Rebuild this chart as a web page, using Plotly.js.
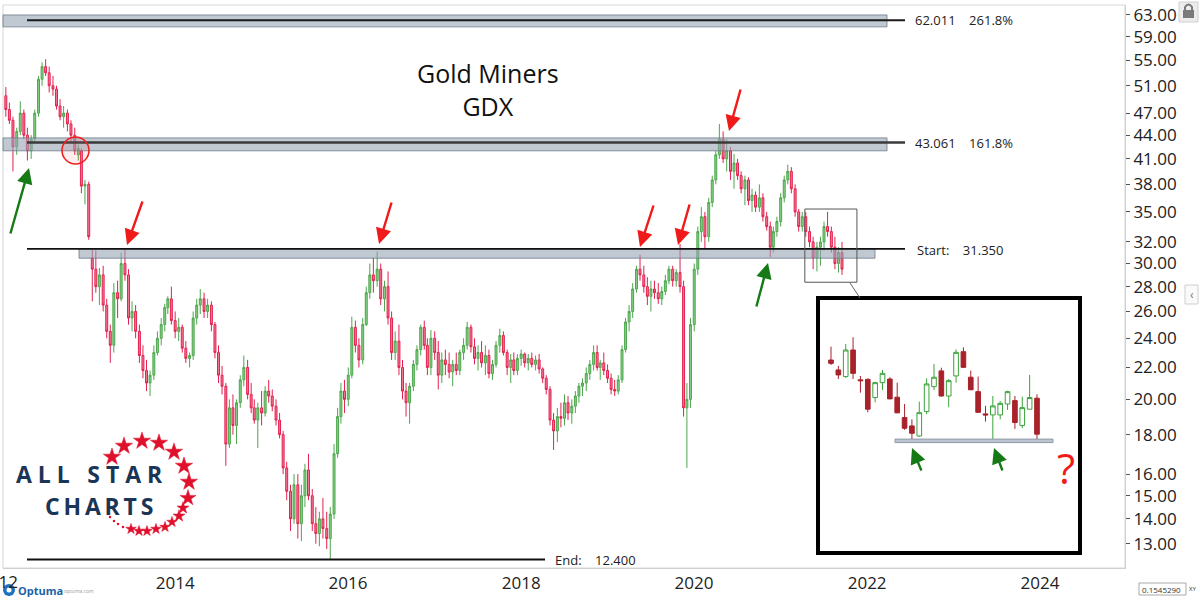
<!DOCTYPE html>
<html>
<head>
<meta charset="utf-8">
<script src="https://cdn.plot.ly/plotly-3.0.1.min.js"></script>
<style>html,body{margin:0;padding:0;background:#fff}#chart{width:1200px;height:597px}</style>
</head>
<body>
<div id="chart"></div>
<script>
// ---------------- DATA (GDX, half-month bars, Apr 2012 - Dec 2021) ----------------
const open = [
  49.5,47.5,46,42.5,44.5,47,44,42,43.5,47,52,54,53,51,50.5,48,46.5,
  47,45.5,44,41.5,42,37.8,38,30.5,29.5,28,29,26.5,24.5,23.5,27.5,27,30,29,25.5,26,24.5,22.8,21.8,21,
  21.5,23,24,25,26.3,27,25.3,24.5,24.8,23.3,22.6,22.8,25.5,26.5,27,26,26.5,25,23,21.5,20.8,17.5,19.5,18.5,
  19.8,21.2,22,20.3,19.5,18.8,19.5,19.2,20.5,20.2,19.6,18.8,18,16.3,15.2,14,15.5,13.8,15,16.2,15,13.8,13.4,14,
  13.6,13.2,14.2,17,19,20.5,20,21.5,24.8,23.5,22.5,25,27.5,29,28.5,29.5,27,28,25.5,23,23.8,22,20.5,19.8,
  20.8,22.2,23.2,24.8,23.5,22,24,23,21.5,22.5,22.2,21.7,22.2,21.8,23,23.5,24.8,23.4,22.6,23,22.3,22.8,21.6,22.2,
  23.5,24.2,23,22,22.5,21.8,22.6,22.9,22.3,22.6,22.2,22.5,21.9,21.3,20.6,18.8,18.2,19,18.9,19.8,19.2,19.6,20.2,20.8,
  21,21.6,22.2,23,22,22.3,21.8,21.3,20.6,20.5,21.2,23.2,25.2,26,27.8,29.5,29,28,27.2,27.8,27.5,27,27.6,28.5,
  29.5,28.5,29.2,28,19.5,20,25,29.5,33,34.5,32.5,36,38.5,41.5,43.5,41,42,39.5,40.5,39,37.5,38.5,36.2,36.8,
  35.5,36.5,34.5,33.5,31.5,33,34,36.5,38.5,39.5,37.5,35,33.5,34.5,33,32,30.5,31.5,32,33.5,33,31.5,30,31
];
const high = [
  50.8,48.5,46.5,45,48.7,47.5,45,44,47.5,52.5,54.7,55.2,54,52.5,51,49,48,
  47.5,46,45,42.8,42.3,38.5,38.3,31.3,31.2,29.6,29.8,27,25,28.3,28.5,31,31.3,29.5,26.8,26.5,25,23.5,22.5,21.8,
  23.5,24.5,25.5,26.6,27.2,28,26,25.5,25,23.8,23,26,27,27.8,27.5,27,26.8,25.2,23.5,22.1,21,20,20.3,20,
  21.5,22.8,22.5,21,20,19.8,20.5,20.8,21.2,20.6,20,19.2,18.2,16.6,15.5,16,16,15.5,16.5,17,15.3,14.5,14.3,14.9,
  14.3,14.5,17.5,19.5,21,21.2,22,25.6,25.3,24,25.5,28,30,30.5,31.1,30,28.5,29.3,26,24.5,25,22.5,21,21,
  22.5,23.5,25,25.3,24,24.6,24.5,23.8,23,23.2,23,22.5,23,23.2,24,25.2,25,24,23.5,23.8,23.5,23.2,22.5,23.8,
  24.7,24.5,23.2,22.9,23,22.9,23.2,23,22.9,23,22.8,22.9,22,21.5,20.8,19.2,19.5,19.8,20.3,20.2,20,20.5,21,21.3,
  22,22.5,23.5,23.5,22.5,23,22.2,21.6,21.2,21.5,23.5,25.5,26.5,28.3,29.8,30.8,29.8,28.8,28.5,28.5,28.3,28,29,29.8,
  29.8,29.5,31.8,28.5,21,25.5,30,33.5,35.5,35,36.5,39,42,45.5,44.5,43.5,42.5,41.6,41,39.5,39,38.8,37.5,37.2,
  38,37,35,34,33.5,34.5,37,39,40.3,40,38,35.3,35,35,33.5,32.5,32,32.5,34,35,33.5,32.5,31.5,32
];
const low = [
  46.5,45.5,39.5,41.5,44,43.5,40.8,41,43,46.5,51,52.5,50,49.5,47.5,46,45,
  44.5,43,41.5,40.8,37,35.8,32.2,26.8,27.5,26.5,26,24,22.3,23,25.5,26.8,28.5,25,24.5,24,22.3,21.3,20.5,20.2,
  21.2,22.8,23.5,24.5,25.8,25,24,23.8,23,22.3,22,22.5,25,25.8,25.5,25.5,24.5,22.6,21,20.3,16.4,17.3,18,17.5,
  19.5,20.8,20,19.2,18.6,17.3,18.5,19,19.8,19.3,18.5,17.8,16,14.8,13.5,13.8,13.2,13.1,14.5,14.8,13.5,13,12.9,13.2,
  12.8,12.4,14,16.8,18.6,19.2,19.6,21.3,23,22,22.2,24.9,27,27.5,28,26.5,26,25,22.5,22.5,21.5,20,19,18.6,
  20.5,21.8,22.8,23.2,21.5,21.5,22.5,20.6,21,21.5,21.3,20.8,21.5,21.5,22.5,23.2,23,22.2,21.8,22,21.5,21.3,21.2,22,
  23,22.8,21.5,21,21.5,21.5,22.1,22,21.8,22,21.8,21.6,21,20.3,18.5,17.2,17.6,18.4,18.5,18.8,18.6,19.2,19.8,20.2,
  20.5,21.2,21.8,21.8,21.2,21.5,21,20.3,20.2,20.3,21,23,24.5,25.5,27.5,28.5,27.5,26.5,26,27,26.6,26.5,27.3,28.2,
  28,28,27.5,19,16.3,19.5,24.5,29,32,31.3,32,35.5,38,41,40.5,39.5,38.5,37.5,38.5,37,35.7,35.7,35,35,
  35,34,33.1,30.6,31,32.5,33.5,36,38,37,34.5,33,33,32.5,31.5,29.5,29.3,29.8,31.2,32.5,31,29.5,29.2,29
];
const close = [
  47.5,46,42.5,44.5,47,44,42,43.5,47,52,54,53,51,50.5,48,46.5,47,
  45.5,44,42,42.3,37.8,38,32.5,29.5,28,29,26.5,24.5,23.5,27.5,27,30,29,25.5,26,24.5,22.8,21.8,21,21.5,
  23,24,25,26.3,27,25.3,24.5,24.8,23.3,22.6,22.8,25.5,26.5,27,26,26.5,25,23,21.5,20.8,17.5,19.5,18.5,19.8,
  21.2,22,20.3,19.5,18.8,19.5,19.2,20.5,20.2,19.6,18.8,18,16.3,15.2,14,15.5,13.8,15,16.2,15,13.8,13.4,14,13.6,
  13.2,14.2,17,19,20.5,20,21.5,24.8,23.5,22.5,25,27.5,29,28.5,29.5,27,28,25.5,23,23.8,22,20.5,19.8,20.8,
  22.2,23.2,24.8,23.5,22,24,23,21.5,22.5,22.2,21.7,22.2,21.8,23,23.5,24.8,23.4,22.6,23,22.3,22.8,21.6,22.2,23.5,
  24.2,23,22,22.5,21.8,22.6,22.9,22.3,22.6,22.2,22.5,21.9,21.3,20.6,18.8,18.2,19,18.9,19.8,19.2,19.6,20.2,20.8,21,
  21.6,22.2,23,22,22.3,21.8,21.3,20.6,20.5,21.2,23.2,25.2,26,27.8,29.5,29,28,27.2,27.8,27.5,27,27.6,28.5,29.5,
  28.5,29.2,28,19.5,20,25,29.5,33,34.5,32.5,36,38.5,41.5,43.5,41,42,39.5,40.5,39,37.5,38.5,36.2,36.8,35.5,
  36.5,34.5,33.5,31.5,33,34,36.5,38.5,39.5,37.5,35,33.5,34.5,33,32,30.5,31.5,32,33.5,33,31.5,30,31,29.5
];

// Inset: weekly candles of the boxed area (mid 2021 - Dec 2021)
const insetOpen  = [34.33,33.71,33.30,34.97,33.10,33.13,32.04,32.93,33.15,32.06,30.88,30.41,29.85,31.22,32.69,33.65,32.13,33.34,34.86,33.26,32.39,31.09,31.03,31.03,31.66,31.86,30.43,31.36,32.00];
const insetHigh  = [35.19,33.96,35.36,35.80,33.34,33.19,32.99,33.71,33.26,32.93,31.66,30.78,31.80,33.19,34.08,33.85,33.15,35.01,35.14,33.67,33.30,31.55,32.13,31.84,32.45,32.13,32.09,33.40,32.23];
const insetLow   = [34.02,33.15,33.22,33.15,32.33,31.18,31.76,32.49,31.94,31.13,30.19,29.55,29.80,31.07,32.49,32.10,31.47,32.93,33.85,32.49,31.16,30.65,29.60,30.78,31.32,30.24,30.28,31.36,29.60];
const insetClose = [34.12,33.40,34.97,33.50,33.05,31.36,32.93,33.50,31.96,31.15,30.28,30.00,31.16,32.85,33.26,32.13,33.05,34.82,33.87,32.50,31.18,31.03,31.55,31.70,32.39,30.60,31.45,32.04,29.95];

// Levels
const levelValues = [62.011, 43.061, 31.350, 12.400];
const levelTexts  = ['62.011\u00a0\u00a0\u00a0\u00a0261.8%', '43.061\u00a0\u00a0\u00a0\u00a0161.8%', 'Start:\u00a0\u00a0\u00a0\u00a031.350', 'End:\u00a0\u00a0\u00a0\u00a012.400'];

// Axis ticks
const yTicks = [13,14,15,16,18,20,22,24,26,28,30,32,35,38,41,44,47,51,55,59,63];
const xTickYears = ['2014','2016','2018','2020','2022','2024'];

// ---------------- helpers ----------------
function barDates(year, month, half, n) {
  const out = [];
  for (let i = 0; i < n; i++) {
    out.push(year + '-' + String(month).padStart(2, '0') + (half ? '-23' : '-08'));
    if (half) { half = 0; month++; if (month > 12) { month = 1; year++; } } else { half = 1; }
  }
  return out;
}
const dates = barDates(2012, 4, 1, close.length);
const insetX = insetClose.map((_, i) => i);

// pixel -> paper conversion for decorations (plot area: x 3..1125, y 5..568)
const px = x => (x - 3) / 1122;
const py = y => (568 - y) / 563;

const FONT = 'Open Sans, Noto Sans, sans-serif';
const RED = '#f01a1a';
const GREEN = '#157a15';
const STAR_RED = '#e0102c';

// logo decoration (pixel positions of the star ring)
const logoStars = [
  [112,457,13],[124,446,13],[142,441,13],[159,443,13],[174,452,13],[184,466,13],[189,482,13],[188,498,12],
  [183,508,9],[179,516,9],[172,522,8],[165,527,8],[156,529,8],[147,531,8],[139,531,8],[131,529,8]
];
const logoDots = [[123,527],[118,524],[114,521],[110,517]];

const traces = [
  {
    type: 'candlestick', x: dates, open: open, high: high, low: low, close: close,
    xaxis: 'x', yaxis: 'y', showlegend: false, hoverinfo: 'skip',
    increasing: {line: {color: '#4da64d', width: 1}, fillcolor: '#86cf86'},
    decreasing: {line: {color: '#e3204f', width: 1}, fillcolor: '#f27a97'},
    whiskerwidth: 0
  },
  {
    type: 'candlestick', x: insetX, open: insetOpen, high: insetHigh, low: insetLow, close: insetClose,
    xaxis: 'x2', yaxis: 'y2', showlegend: false, hoverinfo: 'skip',
    increasing: {line: {color: '#3aa33a', width: 1}, fillcolor: '#ffffff'},
    decreasing: {line: {color: '#a8222b', width: 1}, fillcolor: '#a8222b'},
    whiskerwidth: 0
  },
  {
    type: 'scatter', mode: 'markers', xaxis: 'x3', yaxis: 'y3', hoverinfo: 'skip', showlegend: false,
    x: logoStars.map(s => s[0]), y: logoStars.map(s => s[1]),
    marker: {symbol: 'star', size: logoStars.map(s => s[2]), color: STAR_RED, opacity: 1, line: {width: 0.5, color: STAR_RED}}
  },
  {
    type: 'scatter', mode: 'markers', xaxis: 'x3', yaxis: 'y3', hoverinfo: 'skip', showlegend: false,
    x: logoDots.map(s => s[0]), y: logoDots.map(s => s[1]),
    marker: {symbol: 'circle', size: 2.5, color: STAR_RED, line: {width: 0}}
  }
];

const BAND_FILL = 'rgba(150,164,180,0.6)';
const BAND_LINE = 'rgba(110,122,138,0.8)';

const shapes = [
  // plot frame
  {type: 'rect', xref: 'paper', yref: 'paper', x0: 0, x1: 1, y0: 0, y1: 1, line: {color: '#d6d6d6', width: 1}, layer: 'below'},
  // inset frame
  {type: 'rect', xref: 'paper', yref: 'paper', x0: px(818), x1: px(1080), y0: py(553), y1: py(298), line: {color: '#000', width: 4}, fillcolor: '#fff', layer: 'below'},
  // inset support band
  {type: 'rect', xref: 'paper', yref: 'y2', x0: px(895), x1: px(1053), y0: 29.49, y1: 29.68, fillcolor: '#bcc5cf', line: {color: '#8e99a6', width: 1}, layer: 'above'},
  // bands
  {type: 'rect', xref: 'paper', yref: 'y', x0: 0, x1: px(887), y0: 60.8, y1: 63.0, fillcolor: BAND_FILL, line: {color: BAND_LINE, width: 1}},
  {type: 'rect', xref: 'paper', yref: 'y', x0: 0, x1: px(887), y0: 42.0, y1: 43.65, fillcolor: BAND_FILL, line: {color: BAND_LINE, width: 1}},
  {type: 'rect', xref: 'paper', yref: 'y', x0: px(79), x1: px(875), y0: 30.48, y1: 31.35, fillcolor: BAND_FILL, line: {color: BAND_LINE, width: 1}},
  // level lines
  {type: 'line', xref: 'paper', yref: 'y', x0: px(27), x1: px(905), y0: levelValues[0], y1: levelValues[0], line: {color: '#1a1a1a', width: 2}},
  {type: 'line', xref: 'paper', yref: 'y', x0: px(27), x1: px(905), y0: levelValues[1], y1: levelValues[1], line: {color: '#3a3a3a', width: 2.5}},
  {type: 'line', xref: 'paper', yref: 'y', x0: px(27), x1: px(905), y0: levelValues[2], y1: levelValues[2], line: {color: '#111', width: 1.8}},
  {type: 'line', xref: 'paper', yref: 'y', x0: px(27), x1: px(545), y0: levelValues[3], y1: levelValues[3], line: {color: '#111', width: 1.8}},
  // red circle
  {type: 'circle', xref: 'paper', yref: 'paper', x0: px(62), x1: px(89), y0: py(164), y1: py(137), line: {color: '#f02020', width: 1.6}, fillcolor: 'rgba(255,90,90,0.10)'},
  // small zoom box on main chart
  {type: 'rect', xref: 'x', yref: 'y', x0: '2021-07-19', x1: '2022-02-24', y0: 28.37, y1: 35.30, line: {color: '#555', width: 1}},
  // connector
  {type: 'line', xref: 'paper', yref: 'paper', x0: px(850), y0: py(283), x1: px(860), y1: py(298), line: {color: '#666', width: 1}},
  // lock icon top right
  {type: 'rect', xref: 'paper', yref: 'paper', x0: px(1179), x1: px(1198), y0: py(22), y1: py(2), fillcolor: '#ececec', line: {color: '#d0d0d0', width: 1}},
  {type: 'rect', xref: 'paper', yref: 'paper', x0: px(1183), x1: px(1194), y0: py(18), y1: py(10), fillcolor: '#7a7a7a', line: {width: 0}},
  {type: 'path', xref: 'paper', yref: 'paper',
   path: `M ${px(1185)} ${py(10)} L ${px(1185)} ${py(7)} Q ${px(1188.5)} ${py(2)} ${px(1192)} ${py(7)} L ${px(1192)} ${py(10)}`,
   line: {color: '#7a7a7a', width: 2}},
  // small side tab
  {type: 'rect', xref: 'paper', yref: 'paper', x0: px(1185), x1: px(1198), y0: py(304), y1: py(285), fillcolor: '#fafafa', line: {color: '#cfcfcf', width: 1}},
  // Optuma icon
  {type: 'circle', xref: 'paper', yref: 'paper', x0: px(3), x1: px(15), y0: py(596), y1: py(584), fillcolor: '#1e73be', line: {width: 0}},
  {type: 'circle', xref: 'paper', yref: 'paper', x0: px(6.5), x1: px(11.5), y0: py(592.5), y1: py(587.5), fillcolor: '#ffffff', line: {width: 0}},
  // bottom right readout box
  {type: 'rect', xref: 'paper', yref: 'paper', x0: px(1139), x1: px(1186), y0: py(595), y1: py(583), fillcolor: '#fff', line: {color: '#aaa', width: 1}}
];

function ann(x, y, text, size, color, extra) {
  return Object.assign({xref: 'paper', yref: 'paper', x: px(x), y: py(y), text: text, showarrow: false,
    xanchor: 'left', yanchor: 'middle', font: {family: FONT, size: size, color: color}}, extra || {});
}

const annotations = [
  // title
  {xref: 'paper', yref: 'paper', x: px(488), y: py(90), text: 'Gold Miners<br>GDX', showarrow: false,
   xanchor: 'center', yanchor: 'middle', align: 'center', font: {family: FONT, size: 25, color: '#111'}},
  // level labels
  ann(913, 20, levelTexts[0], 13, '#222'),
  ann(913, 143, levelTexts[1], 13, '#222'),
  ann(915, 250, levelTexts[2], 13, '#222'),
  ann(553, 560, levelTexts[3], 13, '#222'),
  // question mark
  ann(1066, 467, '?', 42, '#f01a1a', {xanchor: 'center'}),
  // partial 2012 label (cut by the left edge, as in the source)
  ann(-2, 581, '2012', 17, '#222', {xanchor: 'center'}),
  // Optuma
  ann(16, 590, '<b>Optuma</b>', 11, '#1e5fa8'),
  ann(62, 591, 'optuma.com', 5, '#999'),
  // readout
  ann(1140, 589, '0.1545290', 8, '#333'),
  ann(1187, 589, 'XY', 6, '#333'),
  ann(1191.5, 294, '\u2039', 12, '#777', {xanchor: 'center'}),
  // logo text (top line sits above y=490, bottom line below it)
  ann(15, 491, '<b>A L L\u2002 S T A R</b>', 23, '#1b3556', {yanchor: 'bottom', borderpad: 0}),
  ann(44, 489, '<b>C\u2009H\u2009A\u2009R\u2009T\u2009S</b>', 23, '#1b3556', {yanchor: 'top', borderpad: 0})
];

// arrows: tip and tail in pixels
const arrowList = [
  {tip: [127, 245], tail: [143, 200], c: RED},
  {tip: [379, 244], tail: [392, 201], c: RED},
  {tip: [640, 247], tail: [654, 204], c: RED},
  {tip: [678, 245], tail: [690, 203], c: RED},
  {tip: [729, 131], tail: [741, 88], c: RED},
  {tip: [29, 168], tail: [10, 235], c: GREEN},
  {tip: [768, 263], tail: [756, 308], c: GREEN},
  {tip: [912, 448], tail: [922, 472], c: GREEN},
  {tip: [994, 448], tail: [1003, 472], c: GREEN}
];
arrowList.forEach(a => annotations.push({
  xref: 'paper', yref: 'paper', x: px(a.tip[0]), y: py(a.tip[1]),
  ax: a.tail[0] - a.tip[0], ay: a.tail[1] - a.tip[1], text: '', showarrow: true,
  arrowhead: 2, arrowsize: 1.3, arrowwidth: 2.4, arrowcolor: a.c, standoff: 0
}));

const layout = {
  width: 1200, height: 597,
  margin: {l: 3, r: 75, t: 5, b: 29, pad: 0},
  paper_bgcolor: '#fff', plot_bgcolor: 'rgba(0,0,0,0)',
  showlegend: false, hovermode: false, dragmode: false,
  boxgap: 0.1, boxgroupgap: 0.3,
  xaxis: {
    type: 'date', domain: [0, 1], anchor: 'y',
    range: ['2012-04-11', '2025-04-01'],
    rangeslider: {visible: false},
    showgrid: false, zeroline: false, showline: true, linecolor: '#cfcfcf', linewidth: 1,
    ticks: '', tickmode: 'array',
    tickvals: xTickYears.map(y => y + '-01-01'), ticktext: xTickYears,
    ticklabelshift: 23,
    tickfont: {family: FONT, size: 17, color: '#222'}
  },
  yaxis: {
    type: 'log', domain: [0, 1], anchor: 'x', side: 'right',
    range: [Math.log10(12.09), Math.log10(64.9)],
    showgrid: false, zeroline: false, showline: true, linecolor: '#cfcfcf', linewidth: 1,
    ticks: 'outside', ticklen: 4, tickcolor: '#555', tickwidth: 1,
    tickmode: 'array', tickvals: yTicks, ticktext: yTicks.map(v => v.toFixed(2)),
    tickfont: {family: FONT, size: 17, color: '#222'}
  },
  xaxis2: {
    domain: [px(821), px(1077)], anchor: 'y2', range: [-1.36, 33.44],
    visible: false, rangeslider: {visible: false}, fixedrange: true
  },
  yaxis2: {
    domain: [py(550), py(302)], anchor: 'x2', type: 'log',
    range: [Math.log10(24.2), Math.log10(38.2)], visible: false, fixedrange: true
  },
  xaxis3: {domain: [0, 1], anchor: 'y3', range: [3, 1125], visible: false, fixedrange: true},
  yaxis3: {domain: [0, 1], anchor: 'x3', range: [568, 5], visible: false, fixedrange: true},
  shapes: shapes,
  annotations: annotations
};

Plotly.newPlot('chart', traces, layout, {staticPlot: true, displayModeBar: false});
</script>
</body>
</html>
